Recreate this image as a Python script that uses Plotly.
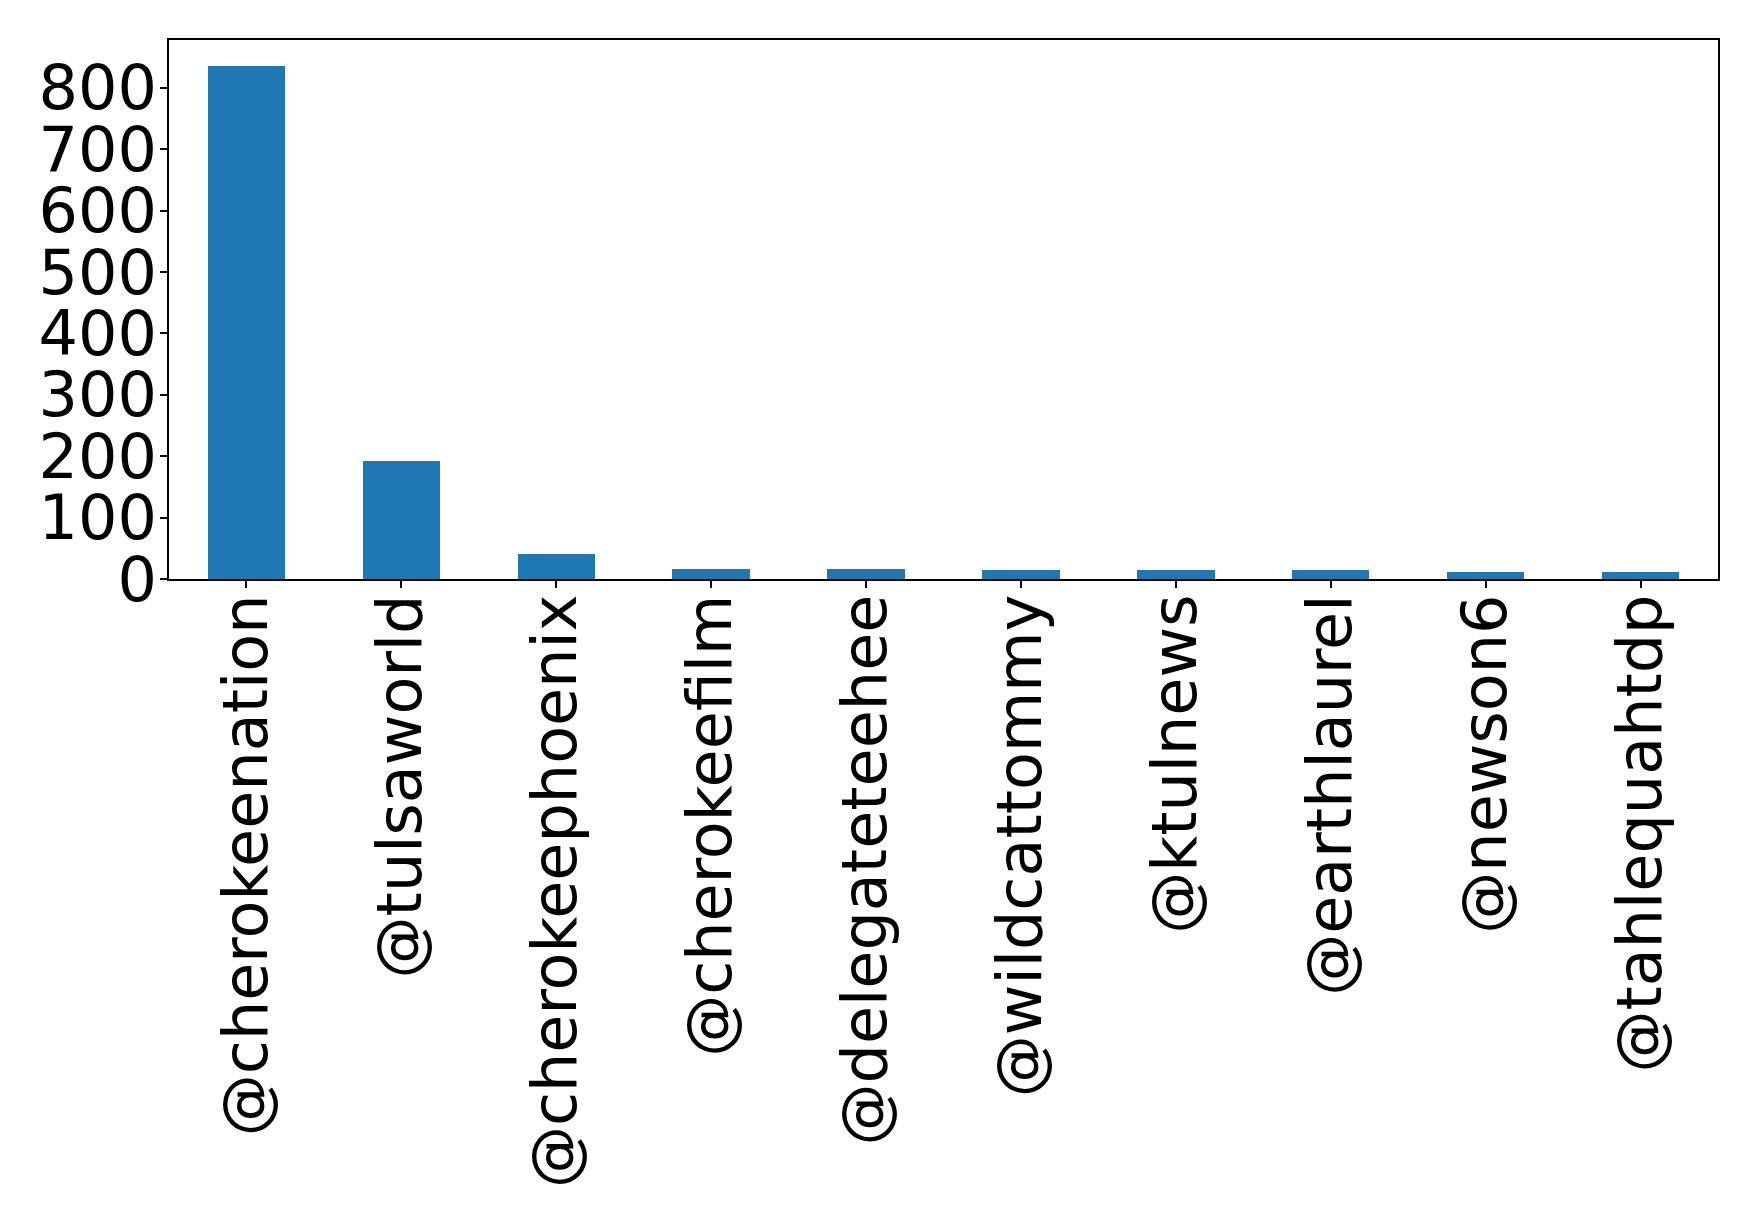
import plotly.graph_objects as go

handles = ["@cherokeenation", "@tulsaworld", "@cherokeephoenix", "@cherokeefilm",
           "@delegateteehee", "@wildcattommy", "@ktulnews", "@earthlaurel",
           "@newson6", "@tahlequahtdp"]
counts = [836, 192, 41, 16, 16, 15, 15, 15, 12, 12]

fig = go.Figure(go.Bar(x=list(range(len(handles))), y=counts, width=0.5,
                       marker=dict(color="#1f77b4", line=dict(width=0))))

fig.update_layout(
    width=1759, height=1226,
    plot_bgcolor="white", paper_bgcolor="white",
    margin=dict(l=161, r=49, t=32, b=655),
    font=dict(family="DejaVu Sans", size=62, color="black"),
    showlegend=False, bargap=0,
)
fig.update_xaxes(
    range=[-0.5, len(handles) - 0.5],
    tickvals=list(range(len(handles))), ticktext=handles, tickangle=-90,
    ticks="outside", ticklen=7, tickwidth=1.5, tickcolor="black",
    ticklabelstandoff=-18,
    showline=True, linecolor="black", linewidth=1.5, mirror=True,
    showgrid=False, zeroline=False,
)
fig.update_yaxes(
    range=[0, max(counts) * 1.05],
    tickvals=[0, 100, 200, 300, 400, 500, 600, 700, 800],
    ticks="outside", ticklen=7, tickwidth=1.5, tickcolor="black",
    ticklabelstandoff=-9,
    showline=True, linecolor="black", linewidth=1.5, mirror=True,
    showgrid=False, zeroline=False,
)

fig.write_html("out.html")
